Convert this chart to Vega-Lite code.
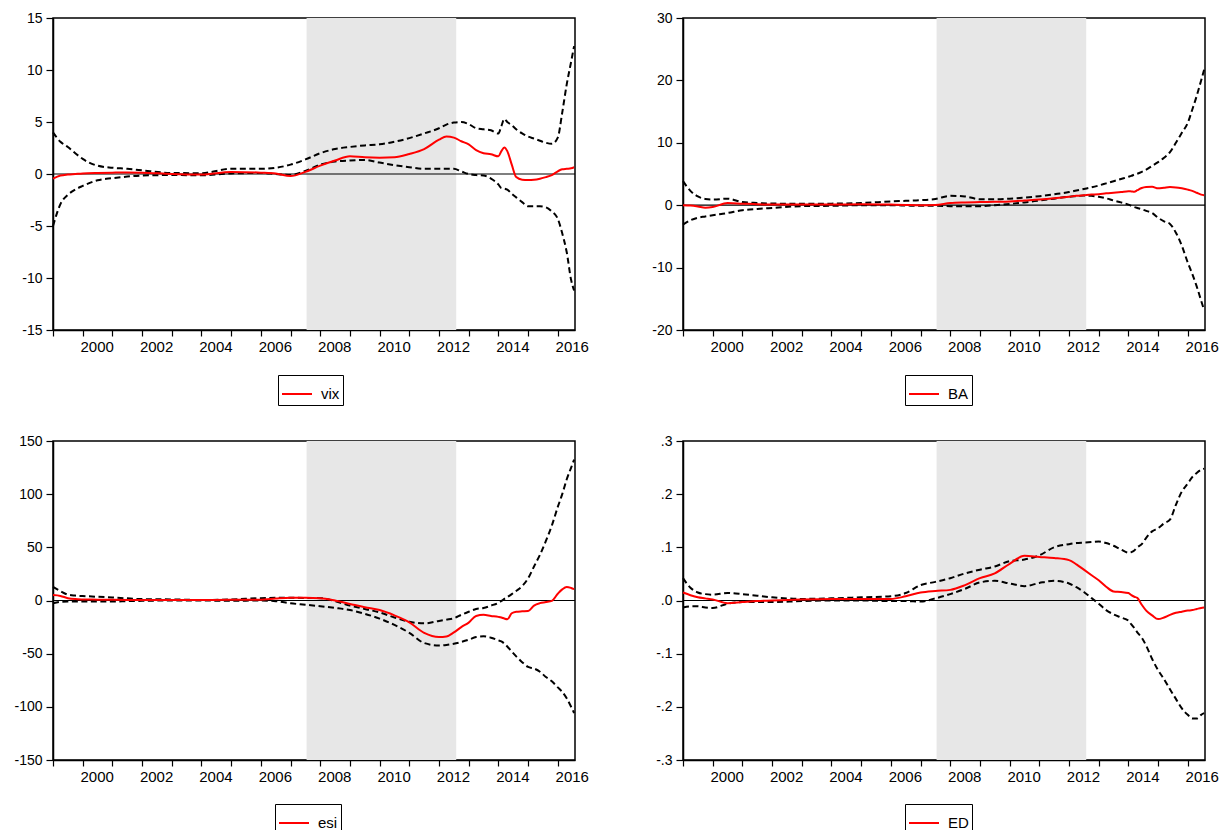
{
  "$schema": "https://vega.github.io/schema/vega-lite/v6.json",
  "autosize": {"type": "pad"},
  "padding": {"left": 13, "top": 10, "right": 0, "bottom": 0},
  "background": "#ffffff",
  "columns": 2,
  "bounds": "flush",
  "spacing": {"row": 111, "column": 108},
  "datasets": {
    "shade": [{"start": 2007.54, "end": 2012.58}],
    "irf": [
      {"t": 1999.0, "vix": -0.45, "vixL": -5.0, "vixH": 4.0, "ba": 0.0, "baL": -3.1, "baH": 3.85, "esi": 5.1, "esiL": -2.6, "esiH": 12.8, "ed": 0.015, "edL": -0.013, "edH": 0.042},
      {"t": 1999.25, "vix": -0.15, "vixL": -2.9, "vixH": 3.1, "ba": -0.05, "baL": -2.4, "baH": 2.3, "esi": 4.3, "esiL": -1.2, "esiH": 8.8, "ed": 0.01, "edL": -0.011, "edH": 0.024},
      {"t": 1999.5, "vix": -0.05, "vixL": -2.0, "vixH": 2.6, "ba": -0.2, "baL": -2.0, "baH": 1.4, "esi": 2.2, "esiL": -1.0, "esiH": 5.5, "ed": 0.006, "edL": -0.011, "edH": 0.015},
      {"t": 1999.75, "vix": 0.0, "vixL": -1.5, "vixH": 2.0, "ba": -0.4, "baL": -1.8, "baH": 1.0, "esi": 1.3, "esiL": -1.0, "esiH": 4.6, "ed": 0.004, "edL": -0.013, "edH": 0.012},
      {"t": 2000.0, "vix": 0.05, "vixL": -1.15, "vixH": 1.45, "ba": -0.3, "baL": -1.6, "baH": 0.9, "esi": 1.0, "esiL": -1.0, "esiH": 4.2, "ed": 0.002, "edL": -0.014, "edH": 0.011},
      {"t": 2000.5, "vix": 0.1, "vixL": -0.6, "vixH": 0.8, "ba": 0.35, "baL": -1.25, "baH": 1.05, "esi": 0.8, "esiL": -1.0, "esiH": 3.5, "ed": -0.005, "edL": -0.006, "edH": 0.014},
      {"t": 2001.0, "vix": 0.13, "vixL": -0.4, "vixH": 0.6, "ba": 0.25, "baL": -0.8, "baH": 0.5, "esi": 0.6, "esiL": -1.0, "esiH": 2.9, "ed": -0.003, "edL": -0.003, "edH": 0.012},
      {"t": 2001.5, "vix": 0.15, "vixL": -0.25, "vixH": 0.5, "ba": 0.15, "baL": -0.6, "baH": 0.35, "esi": 0.5, "esiL": -0.6, "esiH": 2.0, "ed": -0.001, "edL": -0.003, "edH": 0.009},
      {"t": 2002.0, "vix": 0.13, "vixL": -0.15, "vixH": 0.35, "ba": 0.1, "baL": -0.45, "baH": 0.27, "esi": 0.5, "esiL": -0.3, "esiH": 1.3, "ed": 0.0, "edL": -0.003, "edH": 0.006},
      {"t": 2003.0, "vix": 0.0, "vixL": -0.1, "vixH": 0.1, "ba": 0.1, "baL": -0.15, "baH": 0.22, "esi": 0.5, "esiL": 0.0, "esiH": 1.0, "ed": 0.002, "edL": -0.001, "edH": 0.003},
      {"t": 2004.0, "vix": -0.05, "vixL": -0.12, "vixH": 0.08, "ba": 0.1, "baL": -0.1, "baH": 0.25, "esi": 0.5, "esiL": 0.0, "esiH": 0.5, "ed": 0.003, "edL": 0.0, "edH": 0.004},
      {"t": 2005.0, "vix": 0.2, "vixL": 0.05, "vixH": 0.5, "ba": 0.15, "baL": 0.0, "baH": 0.35, "esi": 0.6, "esiL": -0.3, "esiH": 1.0, "ed": 0.003, "edL": 0.0, "edH": 0.006},
      {"t": 2006.0, "vix": 0.13, "vixL": 0.1, "vixH": 0.5, "ba": 0.1, "baL": 0.0, "baH": 0.6, "esi": 0.8, "esiL": 0.0, "esiH": 2.2, "ed": 0.003, "edL": -0.001, "edH": 0.008},
      {"t": 2006.5, "vix": 0.05, "vixL": 0.0, "vixH": 0.6, "ba": 0.05, "baL": -0.05, "baH": 0.7, "esi": 1.8, "esiL": -0.6, "esiH": 2.5, "ed": 0.008, "edL": -0.001, "edH": 0.014},
      {"t": 2007.0, "vix": -0.2, "vixL": -0.1, "vixH": 0.9, "ba": 0.0, "baL": -0.1, "baH": 0.8, "esi": 2.5, "esiL": -2.6, "esiH": 2.5, "ed": 0.015, "edL": -0.002, "edH": 0.029},
      {"t": 2007.5, "vix": 0.2, "vixL": 0.3, "vixH": 1.4, "ba": 0.05, "baL": -0.1, "baH": 1.0, "esi": 2.5, "esiL": -4.0, "esiH": 2.4, "ed": 0.018, "edL": 0.004, "edH": 0.035},
      {"t": 2008.0, "vix": 0.8, "vixL": 0.9, "vixH": 2.0, "ba": 0.35, "baL": -0.15, "baH": 1.5, "esi": 2.2, "esiL": -5.4, "esiH": 2.2, "ed": 0.02, "edL": 0.012, "edH": 0.042},
      {"t": 2008.5, "vix": 1.3, "vixL": 1.2, "vixH": 2.4, "ba": 0.45, "baL": -0.15, "baH": 1.4, "esi": 0.0, "esiL": -7.0, "esiH": -0.6, "ed": 0.029, "edL": 0.022, "edH": 0.051},
      {"t": 2009.0, "vix": 1.7, "vixL": 1.3, "vixH": 2.6, "ba": 0.5, "baL": -0.15, "baH": 0.95, "esi": -3.2, "esiL": -9.0, "esiH": -4.8, "ed": 0.042, "edL": 0.034, "edH": 0.058},
      {"t": 2009.5, "vix": 1.6, "vixL": 1.35, "vixH": 2.75, "ba": 0.55, "baL": 0.0, "baH": 0.95, "esi": -6.4, "esiL": -12.5, "esiH": -8.0, "ed": 0.051, "edL": 0.037, "edH": 0.064},
      {"t": 2010.0, "vix": 1.57, "vixL": 1.1, "vixH": 2.85, "ba": 0.6, "baL": 0.2, "baH": 1.05, "esi": -9.0, "esiL": -17.0, "esiH": -11.2, "ed": 0.069, "edL": 0.032, "edH": 0.074},
      {"t": 2010.5, "vix": 1.6, "vixL": 0.85, "vixH": 3.1, "ba": 0.75, "baL": 0.45, "baH": 1.2, "esi": -14.0, "esiL": -23.0, "esiH": -16.0, "ed": 0.084, "edL": 0.027, "edH": 0.077},
      {"t": 2011.0, "vix": 1.92, "vixL": 0.65, "vixH": 3.45, "ba": 0.9, "baL": 0.75, "baH": 1.45, "esi": -20.5, "esiL": -30.4, "esiH": -20.0, "ed": 0.082, "edL": 0.033, "edH": 0.085},
      {"t": 2011.5, "vix": 2.4, "vixL": 0.5, "vixH": 3.9, "ba": 1.1, "baL": 1.05, "baH": 1.75, "esi": -30.4, "esiL": -40.0, "esiH": -21.5, "ed": 0.08, "edL": 0.037, "edH": 0.1},
      {"t": 2012.0, "vix": 3.3, "vixL": 0.5, "vixH": 4.4, "ba": 1.35, "baL": 1.35, "baH": 2.1, "esi": -34.3, "esiL": -42.3, "esiH": -19.2, "ed": 0.076, "edL": 0.032, "edH": 0.106},
      {"t": 2012.25, "vix": 3.6, "vixL": 0.5, "vixH": 4.75, "ba": 1.5, "baL": 1.45, "baH": 2.35, "esi": -33.8, "esiL": -41.8, "esiH": -18.0, "ed": 0.068, "edL": 0.025, "edH": 0.108},
      {"t": 2012.5, "vix": 3.5, "vixL": 0.5, "vixH": 4.95, "ba": 1.6, "baL": 1.55, "baH": 2.6, "esi": -30.0, "esiL": -40.7, "esiH": -16.7, "ed": 0.058, "edL": 0.016, "edH": 0.109},
      {"t": 2012.75, "vix": 3.15, "vixL": 0.25, "vixH": 5.0, "ba": 1.7, "baL": 1.5, "baH": 2.85, "esi": -25.0, "esiL": -39.0, "esiH": -13.5, "ed": 0.048, "edL": 0.005, "edH": 0.11},
      {"t": 2013.0, "vix": 2.85, "vixL": 0.0, "vixH": 4.8, "ba": 1.75, "baL": 1.35, "baH": 3.15, "esi": -20.8, "esiL": -36.9, "esiH": -10.6, "ed": 0.038, "edL": -0.006, "edH": 0.111},
      {"t": 2013.25, "vix": 2.3, "vixL": -0.1, "vixH": 4.4, "ba": 1.9, "baL": 1.1, "baH": 3.5, "esi": -14.5, "esiL": -34.3, "esiH": -8.0, "ed": 0.026, "edL": -0.018, "edH": 0.108},
      {"t": 2013.5, "vix": 2.0, "vixL": -0.15, "vixH": 4.3, "ba": 2.0, "baL": 0.75, "baH": 3.85, "esi": -13.5, "esiL": -33.7, "esiH": -7.1, "ed": 0.017, "edL": -0.026, "edH": 0.103},
      {"t": 2013.75, "vix": 1.9, "vixL": -0.45, "vixH": 4.2, "ba": 2.1, "baL": 0.45, "baH": 4.2, "esi": -14.5, "esiL": -35.0, "esiH": -4.8, "ed": 0.016, "edL": -0.032, "edH": 0.096},
      {"t": 2014.0, "vix": 1.7, "vixL": -1.0, "vixH": 3.9, "ba": 2.25, "baL": 0.1, "baH": 4.55, "esi": -15.4, "esiL": -37.5, "esiH": -2.2, "ed": 0.014, "edL": -0.038, "edH": 0.09},
      {"t": 2014.1, "vix": 2.2, "vixL": -1.35, "vixH": 4.6, "ba": 2.2, "baL": -0.1, "baH": 4.7, "esi": -16.0, "esiL": -38.5, "esiH": -0.5, "ed": 0.01, "edL": -0.045, "edH": 0.091},
      {"t": 2014.2, "vix": 2.56, "vixL": -1.4, "vixH": 5.3, "ba": 2.15, "baL": -0.3, "baH": 4.9, "esi": -17.0, "esiL": -40.5, "esiH": 1.5, "ed": 0.007, "edL": -0.052, "edH": 0.094},
      {"t": 2014.3, "vix": 2.2, "vixL": -1.5, "vixH": 5.0, "ba": 2.4, "baL": -0.45, "baH": 5.05, "esi": -17.6, "esiL": -43.3, "esiH": 3.2, "ed": 0.005, "edL": -0.06, "edH": 0.1},
      {"t": 2014.45, "vix": 0.9, "vixL": -1.9, "vixH": 4.7, "ba": 2.75, "baL": -0.65, "baH": 5.35, "esi": -12.0, "esiL": -48.0, "esiH": 6.0, "ed": -0.008, "edL": -0.07, "edH": 0.106},
      {"t": 2014.6, "vix": -0.3, "vixL": -2.25, "vixH": 4.3, "ba": 2.9, "baL": -0.9, "baH": 5.7, "esi": -10.6, "esiL": -52.5, "esiH": 9.0, "ed": -0.019, "edL": -0.085, "edH": 0.118},
      {"t": 2014.8, "vix": -0.55, "vixL": -2.7, "vixH": 3.9, "ba": 2.95, "baL": -1.25, "baH": 6.3, "esi": -10.2, "esiL": -58.0, "esiH": 13.5, "ed": -0.028, "edL": -0.11, "edH": 0.13},
      {"t": 2015.0, "vix": -0.58, "vixL": -3.1, "vixH": 3.6, "ba": 2.7, "baL": -2.0, "baH": 6.9, "esi": -9.9, "esiL": -62.5, "esiH": 20.8, "ed": -0.035, "edL": -0.131, "edH": 0.136},
      {"t": 2015.2, "vix": -0.55, "vixL": -3.1, "vixH": 3.4, "ba": 2.8, "baL": -2.6, "baH": 7.6, "esi": -4.8, "esiL": -64.0, "esiH": 32.0, "ed": -0.032, "edL": -0.148, "edH": 0.145},
      {"t": 2015.4, "vix": -0.45, "vixL": -3.1, "vixH": 3.2, "ba": 2.9, "baL": -3.0, "baH": 8.5, "esi": -2.5, "esiL": -67.0, "esiH": 43.0, "ed": -0.027, "edL": -0.167, "edH": 0.152},
      {"t": 2015.6, "vix": -0.3, "vixL": -3.2, "vixH": 3.0, "ba": 2.85, "baL": -4.4, "baH": 10.0, "esi": -1.5, "esiL": -72.0, "esiH": 56.0, "ed": -0.023, "edL": -0.185, "edH": 0.18},
      {"t": 2015.8, "vix": -0.1, "vixL": -3.6, "vixH": 2.9, "ba": 2.7, "baL": -6.5, "baH": 11.6, "esi": -0.3, "esiL": -76.0, "esiH": 70.5, "ed": -0.021, "edL": -0.203, "edH": 0.205},
      {"t": 2016.0, "vix": 0.26, "vixL": -4.3, "vixH": 3.5, "ba": 2.5, "baL": -9.2, "baH": 13.2, "esi": 6.4, "esiL": -81.7, "esiH": 88.0, "ed": -0.019, "edL": -0.215, "edH": 0.22},
      {"t": 2016.15, "vix": 0.45, "vixL": -5.7, "vixH": 5.9, "ba": 2.3, "baL": -11.0, "baH": 15.3, "esi": 10.5, "esiL": -86.0, "esiH": 100.0, "ed": -0.018, "edL": -0.222, "edH": 0.232},
      {"t": 2016.3, "vix": 0.5, "vixL": -7.5, "vixH": 8.6, "ba": 2.0, "baL": -13.0, "baH": 17.5, "esi": 12.8, "esiL": -92.0, "esiH": 113.8, "ed": -0.016, "edL": -0.222, "edH": 0.24},
      {"t": 2016.45, "vix": 0.55, "vixL": -10.2, "vixH": 10.8, "ba": 1.7, "baL": -15.3, "baH": 20.0, "esi": 11.8, "esiL": -100.0, "esiH": 125.0, "ed": -0.014, "edL": -0.215, "edH": 0.246},
      {"t": 2016.55, "vix": 0.65, "vixL": -11.2, "vixH": 12.3, "ba": 1.6, "baL": -16.8, "baH": 21.7, "esi": 10.6, "esiL": -105.8, "esiH": 132.4, "ed": -0.013, "edL": -0.212, "edH": 0.248}
    ]
  },
  "concat": [
    {
      "width": 522, "height": 312,
      "layer": [
        {"data": {"name": "shade"}, "mark": {"type": "rect", "color": "#e7e7e7"},
         "encoding": {"x": {"field": "start", "type": "quantitative", "title": null, "scale": {"domain": [1999, 2016.58], "nice": false, "zero": false},
           "axis": {"title": null, "values": [1999,2000,2001,2002,2003,2004,2005,2006,2007,2008,2009,2010,2011,2012,2013,2014,2015,2016], "tickCount": 40, "labelExpr": "datum.value % 2 == 0 ? format(datum.value, 'd') : ''", "labelOffset": 14, "labelFlush": false, "labelOverlap": false, "labelFontSize": 15, "tickSize": 6, "labelPadding": 3}},
           "x2": {"field": "end"}}},
        {"data": {"values": [{"level": 0}]}, "mark": {"type": "rule", "color": "#000000", "strokeWidth": 1.2},
         "encoding": {"y": {"field": "level", "type": "quantitative", "title": null, "scale": {"domain": [-15, 15], "nice": false, "zero": false},
           "axis": {"title": null, "values": [-15, -10, -5, 0, 5, 10, 15], "tickCount": 20, "labelExpr": "replace(datum.label, '\u2212', '-')", "tickSize": 7, "labelPadding": 4}}}},
        {"data": {"name": "irf"}, "mark": {"type": "line", "color": "#000000", "strokeWidth": 2, "strokeDash": [6, 3.5], "interpolate": "monotone"},
         "encoding": {"x": {"field": "t", "type": "quantitative", "title": null}, "y": {"field": "vixH", "type": "quantitative", "title": null}}},
        {"data": {"name": "irf"}, "mark": {"type": "line", "color": "#000000", "strokeWidth": 2, "strokeDash": [6, 3.5], "interpolate": "monotone"},
         "encoding": {"x": {"field": "t", "type": "quantitative", "title": null}, "y": {"field": "vixL", "type": "quantitative", "title": null}}},
        {"data": {"name": "irf"}, "mark": {"type": "line", "strokeWidth": 2, "interpolate": "monotone"},
         "encoding": {"x": {"field": "t", "type": "quantitative", "title": null}, "y": {"field": "vix", "type": "quantitative", "title": null},
           "color": {"datum": "vix", "type": "nominal", "scale": {"domain": ["vix"], "range": ["#ff0000"]}, "legend": {"title": null, "orient": "none", "legendX": 225, "legendY": 357, "labelFontSize": 15}}}}
      ]
    },
    {
      "width": 522, "height": 312,
      "layer": [
        {"data": {"name": "shade"}, "mark": {"type": "rect", "color": "#e7e7e7"},
         "encoding": {"x": {"field": "start", "type": "quantitative", "title": null, "scale": {"domain": [1999, 2016.58], "nice": false, "zero": false},
           "axis": {"title": null, "values": [1999,2000,2001,2002,2003,2004,2005,2006,2007,2008,2009,2010,2011,2012,2013,2014,2015,2016], "tickCount": 40, "labelExpr": "datum.value % 2 == 0 ? format(datum.value, 'd') : ''", "labelOffset": 14, "labelFlush": false, "labelOverlap": false, "labelFontSize": 15, "tickSize": 6, "labelPadding": 3}},
           "x2": {"field": "end"}}},
        {"data": {"values": [{"level": 0}]}, "mark": {"type": "rule", "color": "#000000", "strokeWidth": 1.2},
         "encoding": {"y": {"field": "level", "type": "quantitative", "title": null, "scale": {"domain": [-20, 30], "nice": false, "zero": false},
           "axis": {"title": null, "values": [-20, -10, 0, 10, 20, 30], "tickCount": 20, "labelExpr": "replace(datum.label, '\u2212', '-')", "tickSize": 7, "labelPadding": 4}}}},
        {"data": {"name": "irf"}, "mark": {"type": "line", "color": "#000000", "strokeWidth": 2, "strokeDash": [6, 3.5], "interpolate": "monotone"},
         "encoding": {"x": {"field": "t", "type": "quantitative", "title": null}, "y": {"field": "baH", "type": "quantitative", "title": null}}},
        {"data": {"name": "irf"}, "mark": {"type": "line", "color": "#000000", "strokeWidth": 2, "strokeDash": [6, 3.5], "interpolate": "monotone"},
         "encoding": {"x": {"field": "t", "type": "quantitative", "title": null}, "y": {"field": "baL", "type": "quantitative", "title": null}}},
        {"data": {"name": "irf"}, "mark": {"type": "line", "strokeWidth": 2, "interpolate": "monotone"},
         "encoding": {"x": {"field": "t", "type": "quantitative", "title": null}, "y": {"field": "ba", "type": "quantitative", "title": null},
           "color": {"datum": "BA", "type": "nominal", "scale": {"domain": ["BA"], "range": ["#ff0000"]}, "legend": {"title": null, "orient": "none", "legendX": 222, "legendY": 357, "labelFontSize": 15}}}}
      ]
    },
    {
      "width": 522, "height": 319,
      "layer": [
        {"data": {"name": "shade"}, "mark": {"type": "rect", "color": "#e7e7e7"},
         "encoding": {"x": {"field": "start", "type": "quantitative", "title": null, "scale": {"domain": [1999, 2016.58], "nice": false, "zero": false},
           "axis": {"title": null, "values": [1999,2000,2001,2002,2003,2004,2005,2006,2007,2008,2009,2010,2011,2012,2013,2014,2015,2016], "tickCount": 40, "labelExpr": "datum.value % 2 == 0 ? format(datum.value, 'd') : ''", "labelOffset": 14, "labelFlush": false, "labelOverlap": false, "labelFontSize": 15, "tickSize": 6, "labelPadding": 3}},
           "x2": {"field": "end"}}},
        {"data": {"values": [{"level": 0}]}, "mark": {"type": "rule", "color": "#000000", "strokeWidth": 1.2},
         "encoding": {"y": {"field": "level", "type": "quantitative", "title": null, "scale": {"domain": [-150, 150], "nice": false, "zero": false},
           "axis": {"title": null, "values": [-150, -100, -50, 0, 50, 100, 150], "tickCount": 20, "labelExpr": "replace(datum.label, '\u2212', '-')", "tickSize": 7, "labelPadding": 4}}}},
        {"data": {"name": "irf"}, "mark": {"type": "line", "color": "#000000", "strokeWidth": 2, "strokeDash": [6, 3.5], "interpolate": "monotone"},
         "encoding": {"x": {"field": "t", "type": "quantitative", "title": null}, "y": {"field": "esiH", "type": "quantitative", "title": null}}},
        {"data": {"name": "irf"}, "mark": {"type": "line", "color": "#000000", "strokeWidth": 2, "strokeDash": [6, 3.5], "interpolate": "monotone"},
         "encoding": {"x": {"field": "t", "type": "quantitative", "title": null}, "y": {"field": "esiL", "type": "quantitative", "title": null}}},
        {"data": {"name": "irf"}, "mark": {"type": "line", "strokeWidth": 2, "interpolate": "monotone"},
         "encoding": {"x": {"field": "t", "type": "quantitative", "title": null}, "y": {"field": "esi", "type": "quantitative", "title": null},
           "color": {"datum": "esi", "type": "nominal", "scale": {"domain": ["esi"], "range": ["#ff0000"]}, "legend": {"title": null, "orient": "none", "legendX": 222, "legendY": 363, "labelFontSize": 15}}}}
      ]
    },
    {
      "width": 522, "height": 319,
      "layer": [
        {"data": {"name": "shade"}, "mark": {"type": "rect", "color": "#e7e7e7"},
         "encoding": {"x": {"field": "start", "type": "quantitative", "title": null, "scale": {"domain": [1999, 2016.58], "nice": false, "zero": false},
           "axis": {"title": null, "values": [1999,2000,2001,2002,2003,2004,2005,2006,2007,2008,2009,2010,2011,2012,2013,2014,2015,2016], "tickCount": 40, "labelExpr": "datum.value % 2 == 0 ? format(datum.value, 'd') : ''", "labelOffset": 14, "labelFlush": false, "labelOverlap": false, "labelFontSize": 15, "tickSize": 6, "labelPadding": 3}},
           "x2": {"field": "end"}}},
        {"data": {"values": [{"level": 0}]}, "mark": {"type": "rule", "color": "#000000", "strokeWidth": 1.2},
         "encoding": {"y": {"field": "level", "type": "quantitative", "title": null, "scale": {"domain": [-0.3, 0.3], "nice": false, "zero": false},
           "axis": {"title": null, "values": [-0.3, -0.2, -0.1, 0, 0.1, 0.2, 0.3], "tickCount": 20, "labelExpr": "replace(replace(format(datum.value, '.1f'), '\u2212', '-'), '0.', '.')", "tickSize": 7, "labelPadding": 4}}}},
        {"data": {"name": "irf"}, "mark": {"type": "line", "color": "#000000", "strokeWidth": 2, "strokeDash": [6, 3.5], "interpolate": "monotone"},
         "encoding": {"x": {"field": "t", "type": "quantitative", "title": null}, "y": {"field": "edH", "type": "quantitative", "title": null}}},
        {"data": {"name": "irf"}, "mark": {"type": "line", "color": "#000000", "strokeWidth": 2, "strokeDash": [6, 3.5], "interpolate": "monotone"},
         "encoding": {"x": {"field": "t", "type": "quantitative", "title": null}, "y": {"field": "edL", "type": "quantitative", "title": null}}},
        {"data": {"name": "irf"}, "mark": {"type": "line", "strokeWidth": 2, "interpolate": "monotone"},
         "encoding": {"x": {"field": "t", "type": "quantitative", "title": null}, "y": {"field": "ed", "type": "quantitative", "title": null},
           "color": {"datum": "ED", "type": "nominal", "scale": {"domain": ["ED"], "range": ["#ff0000"]}, "legend": {"title": null, "orient": "none", "legendX": 222, "legendY": 363, "labelFontSize": 15}}}}
      ]
    }
  ],
  "resolve": {"scale": {"color": "independent", "x": "independent", "y": "independent"}, "legend": {"color": "independent"}},
  "config": {
    "font": "Liberation Sans",
    "view": {"stroke": "#000000", "strokeWidth": 1.5},
    "axis": {"labelFont": "Liberation Sans", "labelFontSize": 14, "labelColor": "#000000", "tickColor": "#000000", "tickWidth": 1.2, "domainColor": "#000000", "domainWidth": 1.5, "grid": false, "zindex": 1},
    "legend": {"labelFont": "Liberation Sans", "labelFontSize": 15, "labelColor": "#000000", "strokeColor": "#000000", "padding": 3, "symbolType": "stroke", "symbolSize": 900, "symbolStrokeWidth": 2, "labelOffset": 8}
  }
}
